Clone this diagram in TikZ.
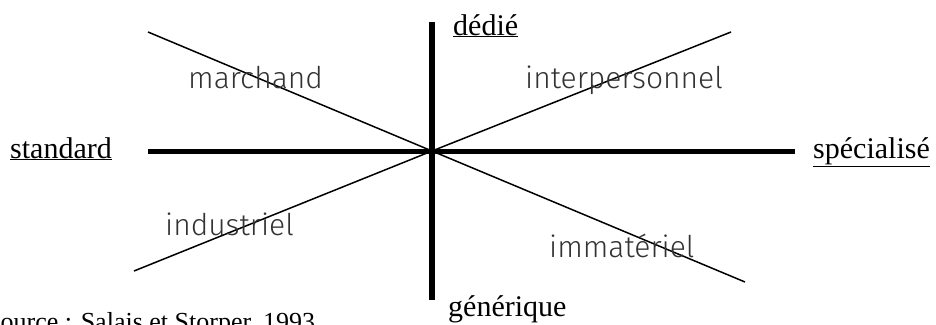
\documentclass[tikz,border=0pt]{standalone}
\usepackage{fontspec}
\setmainfont{Liberation Serif}
\newfontfamily\quadfont{Fira Sans Light}
\usetikzlibrary{math}

\begin{document}
\begin{tikzpicture}[x=1pt,y=-1pt,
  axisline/.style={line width=5pt},
  diagline/.style={line width=1.5pt},
  pole/.style={font=\fontsize{30}{30}\selectfont, inner sep=0pt, anchor=base west},
  quad/.style={font=\quadfont\fontsize{30}{30}\selectfont, text=black!80, inner sep=0pt, anchor=base west}]
\tikzmath{
\cx=432;
\cy=151;
}
\useasboundingbox (0,0) rectangle (936,324);
\coordinate (C) at (\cx,\cy);%crossing point
\coordinate (Vt) at (\cx,22);
\coordinate (Vb) at (\cx,300);
\coordinate (Hl) at (148,\cy);
\coordinate (Hr) at (795,\cy);
\coordinate (Dtl) at (148,32);
\coordinate (Dbr) at (745,282);
\coordinate (Dbl) at (134,271);
\coordinate (Dtr) at (731,32);


%diagonals
\draw[diagline] (Dtl) -- (C) -- (Dbr);
\draw[diagline] (Dbl) -- (C) -- (Dtr);

%axes
\draw[axisline, line width=6pt] (Vt) -- (Vb);
\draw[axisline] (Hl) -- (Hr);

%poles
\node[pole] (dedie) at (453,35) {\underline{dédié}};
\node[pole] (generique) at (448,316) {générique};
\node[pole] (standard) at (10,158) {\underline{standard}};
\node[pole] (specialise) at (813,158) {\underline{spécialisé}};

%quadrants
\node[quad] (marchand) at (188,88) {marchand};
\node[quad] (interpersonnel) at (525,88) {interpersonnel};
\node[quad] (industriel) at (165,235) {industriel};
\node[quad] (immateriel) at (549,257) {immatériel};

\node[pole, font=\fontsize{26}{26}\selectfont] (source) at (-14,330) {Source : Salais et Storper, 1993};
\end{tikzpicture}
\end{document}
